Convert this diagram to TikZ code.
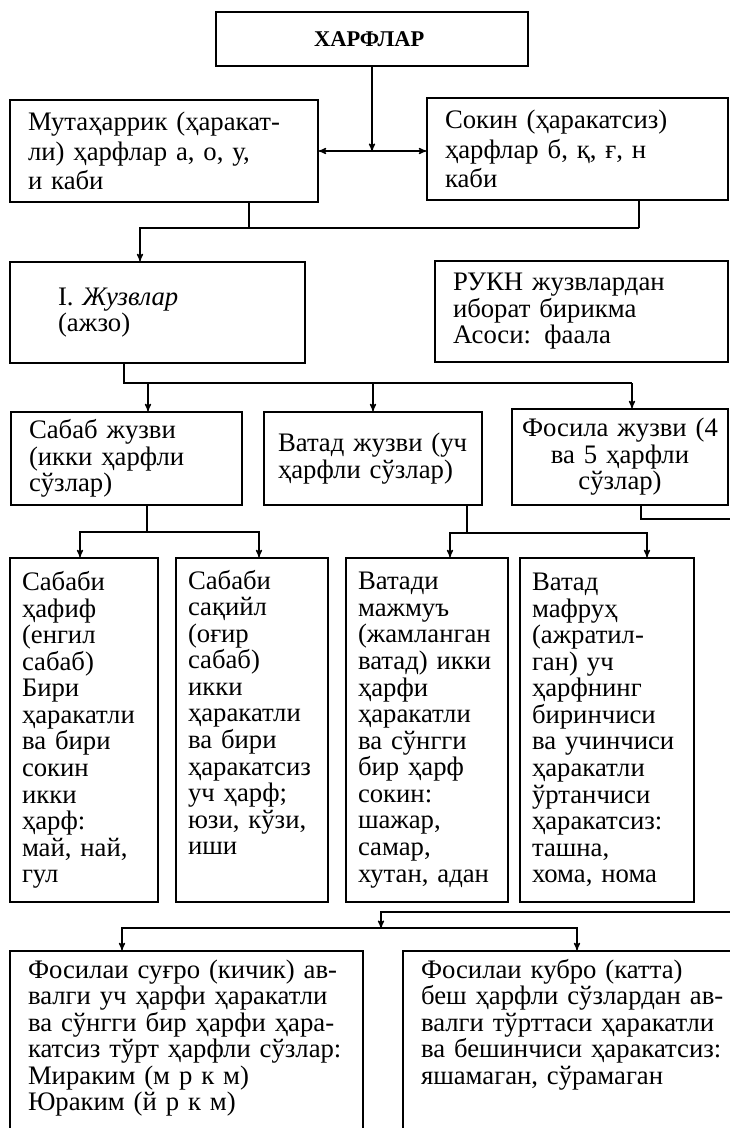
\documentclass[tikz,border=0pt]{standalone}
\usepackage{fontspec}
\setmainfont{Liberation Serif}
\usepackage{tikz}
\usetikzlibrary{arrows}
\newcommand{\cellfont}{\fontsize{19}{18.9}\selectfont}
\newcommand{\widefont}{\fontsize{19}{21}\selectfont}
\newcommand{\headfont}{\fontsize{16}{16}\selectfont\bfseries}
\hyphenpenalty=10000
\exhyphenpenalty=10000
\tikzset{
	cell/.style={draw, line width=1.1pt, align=left, inner xsep=0.45cm, inner ysep=0pt, font=\cellfont},
	narrow/.style={cell, inner xsep=0.3cm},
	link/.style={line width=0.9pt},
	>=stealth'
}

\begin{document}
\begin{tikzpicture}
	\useasboundingbox (0,0) rectangle (18.25,-28.2);
	% top rows
	\node [cell, align=center, font=\headfont, minimum width=7.8cm, minimum height=1.35cm] (1) at (9.3,-0.975)
	{ ХАРФЛАР };
	\node [cell, font=\widefont, text width=6.8cm, minimum height=2.55cm] (2) at (4.1,-3.775)
	{ Мутаҳаррик (ҳаракат-\\ли) ҳарфлар а, о, у,\\и каби };
	\node [cell, font=\widefont, text width=6.625cm, minimum height=2.55cm] (3) at (14.4375,-3.725)
	{ Сокин (ҳаракатсиз)\\ҳарфлар б, қ, ғ, н\\каби };
	\node [cell, inner xsep=1.2cm, text width=4.975cm, minimum height=2.525cm] (4) at (3.9375,-7.8125)
	{ I. \textit{Жузвлар}\\(ажзо) };
	\node [cell, text width=6.425cm, minimum height=2.525cm] (5) at (14.5375,-7.7875)
	{ РУКН жузвлардан\\иборат бирикма\\Асоси: фаала };
	\node [cell, text width=4.875cm, minimum height=2.325cm] (6) at (3.1625,-11.4625)
	{ Сабаб жузви\\(икки ҳарфли\\сўзлар) };
	\node [cell, inner xsep=0.35cm, text width=4.75cm, minimum height=2.325cm] (7) at (9.325,-11.4625)
	{ Ватад жузви (уч\\ҳарфли сўзлар) };
	\node [cell, align=center, inner xsep=0.25cm, text width=4.9cm, minimum height=2.4cm] (8) at (15.5,-11.425)
	{ Фосила жузви (4\\ва 5 ҳарфли\\сўзлар) };
	% narrow boxes
	\node [narrow, text width=3.1cm, minimum height=8.6cm] (9) at (2.1,-18.25)
	{ Сабаби\\ҳафиф\\(енгил\\сабаб)\\Бири\\ҳаракатли\\ва бири\\сокин\\икки\\ҳарф:\\май, най,\\гул };
	\node [narrow, text width=3.2cm, text height=0.775cm, text depth=7.825cm] (10) at (6.3,-18.25)
	{ Сабаби\\сақийл\\(оғир\\сабаб)\\икки\\ҳаракатли\\ва бири\\ҳаракатсиз\\уч ҳарф;\\юзи, кўзи,\\иши };
	\node [narrow, text width=3.45cm, minimum height=8.6cm] (11) at (10.675,-18.25)
	{ Ватади\\мажмуъ\\(жамланган\\ватад) икки\\ҳарфи\\ҳаракатли\\ва сўнгги\\бир ҳарф\\сокин:\\шажар,\\самар,\\хутан, адан };
	\node [narrow, text width=3.75cm, minimum height=8.6cm] (12) at (15.175,-18.25)
	{ Ватад\\мафруҳ\\(ажратил-\\ган) уч\\ҳарфнинг\\биринчиси\\ва учинчиси\\ҳаракатли\\ўртанчиси\\ҳаракатсиз:\\ташна,\\хома, нома };
	% bottom boxes
	\node [cell, text width=7.925cm, text height=0.675cm, text depth=4.55cm] (13) at (4.6625,-26.3875)
	{ Фосилаи суғро (кичик) ав-\\валги уч ҳарфи ҳаракатли\\ва сўнгги бир ҳарфи ҳара-\\катсиз тўрт ҳарфли сўзлар:\\Мираким (м р к м)\\Юраким (й р к м) };
	\node [cell, text width=8.025cm, text height=0.675cm, text depth=4.55cm] (14) at (14.5375,-26.3875)
	{ Фосилаи кубро (катта)\\беш ҳарфли сўзлардан ав-\\валги тўрттаси ҳаракатли\\ва бешинчиси ҳаракатсиз:\\яшамаган, сўрамаган };
	% bends of the lines
	\coordinate (m0) at (3.5,-5.7);
	\coordinate (m1) at (6.225,-5.7);
	\coordinate (m2) at (15.975,-5.7);
	\coordinate (n0) at (3.1,-9.575);
	\coordinate (n1) at (15.8,-9.575);
	\coordinate (n2) at (3.7,-9.575);
	\coordinate (p0) at (3.675,-13.3);
	\coordinate (p1) at (2.0,-13.3);
	\coordinate (p2) at (6.475,-13.3);
	\coordinate (q0) at (11.675,-13.325);
	\coordinate (q1) at (11.25,-13.325);
	\coordinate (q2) at (16.175,-13.325);
	\coordinate (r0) at (16.025,-12.975);
	\coordinate (r1) at (18.6,-12.975);
	\coordinate (s0) at (18.6,-22.8);
	\coordinate (s1) at (9.525,-22.8);
	\coordinate (s2) at (3.05,-23.2);
	\coordinate (s3) at (14.425,-23.2);
	% lines
	\draw [link, ->] (1) -- (1 |- 2.east);
	\draw [link, <->] (2.east) -- (2.east -| 3.west);
	\draw [link] (2.south -| m1) -- (m1);
	\draw [link] (3.south -| m2) -- (m2);
	\draw [link, ->] (m2) -- (m0) -- (m0 |- 4.north);
	\draw [link] (4.south -| n0) -- (n0) -- (n1);
	\draw [link, ->] (n2) -- (n2 |- 6.north);
	\draw [link, ->] (7.north |- n0) -- (7.north);
	\draw [link, ->] (n1) -- (n1 |- 8.north);
	\draw [link] (6.south -| p0) -- (p0);
	\draw [link, <->] (p1 |- 9.north) -- (p1) -- (p2) -- (p2 |- 10.north);
	\draw [link] (7.south -| q0) -- (q0);
	\draw [link, <->] (q1 |- 11.north) -- (q1) -- (q2) -- (q2 |- 12.north);
	\draw [link] (8.south -| r0) -- (r0) -- (r1);
	\draw [link, ->] (s0) -- (s1) -- (s1 |- s2);
	\draw [link, <->] (s2 |- 13.north) -- (s2) -- (s3) -- (s3 |- 14.north);
\end{tikzpicture}
\end{document}
